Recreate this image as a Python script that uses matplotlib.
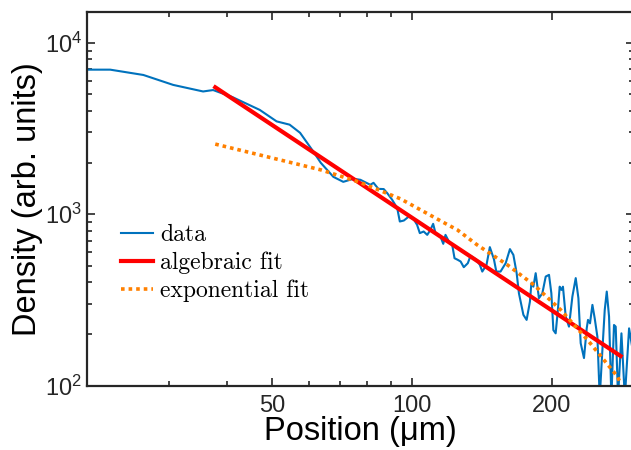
import numpy as np
import matplotlib
matplotlib.use("Agg")
import matplotlib.pyplot as plt
from matplotlib.ticker import FixedLocator, FixedFormatter, NullFormatter, LogLocator

plt.rcParams['font.family'] = ['Liberation Sans', 'DejaVu Sans']
plt.rcParams['mathtext.fontset'] = 'custom'
plt.rcParams['mathtext.rm'] = 'Liberation Sans'
plt.rcParams['mathtext.default'] = 'regular'

# measured density profile (position in um, density in arb. units)
pos_um = [20.0, 22.4, 26.4, 30.6, 35.5, 37.3, 41.0, 47.0, 51.1, 54.5,
          57.4, 61.3, 63.6, 67.7, 71.1, 74.8, 77.4, 81.3, 82.6, 84.6,
          86.9, 88.4, 90.6, 92.9, 94.1, 96.0, 98.4, 100.8, 102.5, 103.9,
          105.9, 107.8, 109.5, 111.0, 112.3, 115.1, 116.7, 118.0, 120.0, 122.0,
          123.4, 125.4, 127.2, 129.2, 131.8, 133.6, 137.0, 139.9, 141.6, 144.6,
          147.0, 150.0, 151.8, 155.0, 159.0, 162.4, 165.2, 167.9, 169.8, 173.6,
          176.4, 179.3, 180.6, 182.4, 184.5, 187.5, 190.7, 193.9, 197.1, 199.4,
          201.4, 203.7, 206.1, 207.8, 209.6, 211.2, 214.1, 217.6, 221.3, 225.0,
          228.0, 230.6, 234.4, 237.6, 239.1, 241.5, 244.4, 247.2, 250.5, 253.4,
          256.8, 259.8, 262.4, 265.4, 268.5, 272.0, 274.3, 277.5, 282.2, 287.0,
          293.1, 297.1]
density = [6970, 6970, 6490, 5680, 5200, 5300, 4830, 4060, 3480, 3330,
           2985, 2320, 1995, 1652, 1545, 1610, 1588, 1485, 1525, 1406,
           1402, 1328, 1214, 1085, 907, 919, 970, 936, 867, 776,
           793, 758, 811, 879, 776, 741, 672, 758, 693, 663,
           554, 542, 530, 491, 518, 572, 547, 507, 463, 507,
           643, 547, 463, 463, 518, 626, 579, 453, 346, 259,
           242, 309, 396, 378, 453, 324, 346, 433, 443, 346,
           211, 202, 283, 378, 362, 378, 253, 221, 331, 424,
           324, 177, 145, 216, 242, 231, 296, 247, 193, 85,
           162, 277, 354, 253, 85, 226, 221, 85, 202, 85,
           216, 173]

# algebraic (power-law) fit, straight line on log-log
alg_x = [37.7, 281.0]
alg_y = [5500, 149]

# exponential fit
exp_x = [37.7, 63.6, 77.4, 94.4, 117.6, 125.1, 138.1, 160.3, 182.9, 208.8, 238.5, 276.8, 280.0]
exp_y = [2565, 1815, 1531, 1230, 887, 811, 662, 507, 387, 277, 185, 113, 105]

fig = plt.figure(figsize=(6.31, 4.5), dpi=100)
ax = fig.add_axes([0.1384, 0.1429, 0.866, 0.831])

ax.plot(pos_um, density, color='#0072BD', lw=1.5, label='data')
ax.plot(alg_x, alg_y, color='#FF0000', lw=3, label='algebraic fit')
ax.plot(exp_x, exp_y, color='#FF8000', lw=2.6, dashes=(1, 1.1), label='exponential fit')

ax.set_xscale('log')
ax.set_yscale('log')
ax.set_xlim(20, 300)
ax.set_ylim(100, 15170)

ax.xaxis.set_major_locator(FixedLocator([50, 100, 200]))
ax.xaxis.set_minor_locator(FixedLocator([30, 40, 60, 70, 80, 90]))
ax.xaxis.set_major_formatter(FixedFormatter(['50', '100', '200']))
ax.xaxis.set_minor_formatter(NullFormatter())
ax.yaxis.set_major_locator(LogLocator(base=10))
ax.yaxis.set_minor_locator(LogLocator(base=10, subs=np.arange(2, 10)))
ax.yaxis.set_minor_formatter(NullFormatter())

for s in ax.spines.values():
    s.set_color('#262626')
    s.set_linewidth(1.6)
ax.tick_params(which='both', direction='in', top=True, right=True,
               colors='#262626', labelcolor='#262626', width=1.2)
ax.tick_params(which='major', length=5.5, labelsize=17)
ax.tick_params(which='minor', length=3.3)
ax.tick_params(axis='x', pad=7)
ax.tick_params(axis='y', pad=4)

ax.set_xlabel('Position (μm)', fontsize=23.5, labelpad=-1)
ax.set_ylabel('Density (arb. units)', fontsize=23.5, labelpad=1)

ax.legend(loc='upper left', bbox_to_anchor=(0.0616, 0.432), frameon=False,
          prop={'family': 'cmr10', 'size': 17}, borderaxespad=0, borderpad=0,
          handlelength=1.36, handletextpad=0.3, labelspacing=0.23)

fig.savefig('out.png', dpi=100)
